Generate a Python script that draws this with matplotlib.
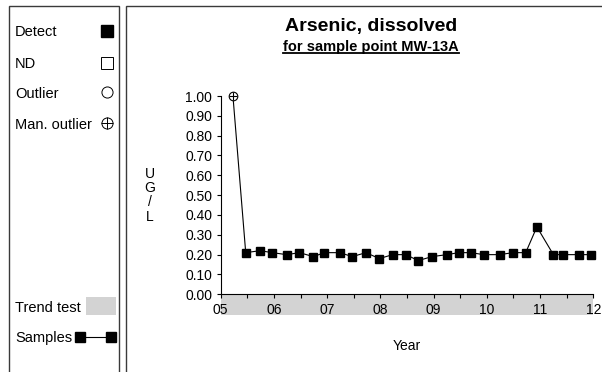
import matplotlib
matplotlib.use("Agg")
import matplotlib.pyplot as plt
from matplotlib.lines import Line2D
from matplotlib.patches import Rectangle
import numpy as np

plt.rcParams['font.family'] = ['Liberation Sans', 'DejaVu Sans']

# Sample dates (decimal years) and dissolved arsenic concentrations (UG/L)
sample_dates = [2005.23, 2005.47, 2005.74, 2005.97, 2006.24, 2006.48, 2006.74,
                2006.95, 2007.24, 2007.47, 2007.73, 2007.98, 2008.23, 2008.48,
                2008.71, 2008.97, 2009.25, 2009.47, 2009.70, 2009.94, 2010.24,
                2010.49, 2010.73, 2010.94, 2011.25, 2011.44, 2011.74, 2011.95]
arsenic = [1.00, 0.21, 0.22, 0.21, 0.20, 0.21, 0.19,
           0.21, 0.21, 0.19, 0.21, 0.18, 0.20, 0.20,
           0.17, 0.19, 0.20, 0.21, 0.21, 0.20, 0.20,
           0.21, 0.21, 0.34, 0.20, 0.20, 0.20, 0.20]
manual_outlier = [True] + [False] * 27

year_ticks = [2005, 2006, 2007, 2008, 2009, 2010, 2011, 2012]
year_labels = ['05', '06', '07', '08', '09', '10', '11', '12']
y_ticks = [0.0, 0.1, 0.2, 0.3, 0.4, 0.5, 0.6, 0.7, 0.8, 0.9, 1.0]

W, H = 602, 372
fig = plt.figure(figsize=(W / 100, H / 100), dpi=100)


def fx(x):
    return x / W


def fy(y):
    return 1 - y / H


# Plot area
x0, x1, ytop, ybot = 220.7, 593.3, 96.0, 294.3
ax = fig.add_axes([fx(x0), fy(ybot), fx(x1 - x0), (ybot - ytop) / H])
ax.set_xlim(2005, 2012)
ax.set_ylim(0, 1.0)
for s in ('top', 'right'):
    ax.spines[s].set_visible(False)
for s in ('left', 'bottom'):
    ax.spines[s].set_linewidth(0.8)

ax.set_xticks(year_ticks)
ax.set_xticklabels(year_labels)
ax.set_xticks(np.arange(2005.5, 2012, 1.0), minor=True)
ax.set_yticks(y_ticks)
ax.set_yticklabels([f"{v:.2f}" for v in y_ticks])
ax.tick_params(axis='both', which='both', direction='out', length=3,
               width=0.8, labelsize=10, colors='black')
ax.tick_params(axis='x', which='both', pad=3)
ax.tick_params(axis='y', pad=3)

# Trend-test band beneath the time axis
band_h = 21 / (ybot - ytop)
ax.add_patch(Rectangle((0, -band_h), 1, band_h, transform=ax.transAxes,
                       facecolor='#d3d3d3', edgecolor='none', clip_on=False,
                       zorder=0))

# Series line and markers
ax.plot(sample_dates, arsenic, color='black', lw=0.8, zorder=2, clip_on=False)
det_x = [d for d, m in zip(sample_dates, manual_outlier) if not m]
det_y = [v for v, m in zip(arsenic, manual_outlier) if not m]
out_x = [d for d, m in zip(sample_dates, manual_outlier) if m]
out_y = [v for v, m in zip(arsenic, manual_outlier) if m]
ax.plot(det_x, det_y, ls='none', marker='s', ms=5.8, mfc='black',
        mec='black', zorder=3, clip_on=False)
ax.plot(out_x, out_y, ls='none', marker='o', ms=6.2, mfc='white',
        mec='black', mew=0.8, zorder=3, clip_on=False)
ax.plot(out_x, out_y, ls='none', marker='+', ms=6.2, mec='black',
        mew=0.8, zorder=4, clip_on=False)

# Axis titles
ax.set_xlabel('Year', fontsize=10, labelpad=0)
ax.xaxis.set_label_coords(0.5, -(345.5 - ybot) / (ybot - ytop))
ax.xaxis.label.set_va('center')
yc = (ytop + ybot) / 2
for i, ch in enumerate(['U', 'G', '/', 'L']):
    fig.text(fx(150), fy(yc + (i - 1.5) * 14.3), ch, fontsize=10,
             ha='center', va='center')

# Title and underlined subtitle
fig.text(fx(371), fy(26), 'Arsenic, dissolved', fontsize=14,
         fontweight='bold', ha='center', va='center')
sub = fig.text(fx(371), fy(46.5), 'for sample point MW-13A', fontsize=10.5,
               fontweight='bold', ha='center', va='center')

# Panel frames
frame_col = '#3a3a3a'
fig.add_artist(Rectangle((fx(9), fy(400)), fx(110), (400 - 6) / H,
                         transform=fig.transFigure, facecolor='none',
                         edgecolor=frame_col, lw=1.0, clip_on=False))
fig.add_artist(Rectangle((fx(125.7), fy(400)), fx(520), (400 - 6) / H,
                         transform=fig.transFigure, facecolor='none',
                         edgecolor=frame_col, lw=1.0, clip_on=False))

# Legend panel: text baselines sit half a cap height below each row centre
legend_rows = [('Detect', 30.5), ('ND', 62.5), ('Outlier', 92.3),
               ('Man. outlier', 123.3), ('Trend test', 306.5),
               ('Samples', 336.7)]
cap_half = 10.5 * 100 / 72 * 0.716 / 2
for label, y in legend_rows:
    fig.text(fx(15), fy(y + cap_half), label, fontsize=10.5, ha='left',
             va='baseline')


def fig_marker(x, y, **kw):
    fig.add_artist(Line2D([fx(x)], [fy(y)], transform=fig.transFigure,
                          ls='none', **kw))


fig_marker(107, 30.5, marker='s', ms=8.0, mfc='black', mec='black')
fig_marker(107, 62.5, marker='s', ms=8.0, mfc='white', mec='black', mew=0.7)
fig_marker(107, 92.3, marker='o', ms=8.0, mfc='white', mec='black', mew=0.7)
fig_marker(107, 123.3, marker='o', ms=8.0, mfc='white', mec='black', mew=0.7)
fig_marker(107, 123.3, marker='+', ms=8.0, mec='black', mew=0.7)
fig.add_artist(Rectangle((fx(85.7), fy(315)), fx(116 - 85.7), (315 - 297.3) / H,
                         transform=fig.transFigure, facecolor='#d3d3d3',
                         edgecolor='none'))
fig.add_artist(Line2D([fx(80), fx(110.5)], [fy(336.7), fy(336.7)],
                      transform=fig.transFigure, color='black', lw=0.8,
                      marker='s', ms=6.5, mfc='black', mec='black'))

# Underline the subtitle
fig.canvas.draw()
bb = sub.get_window_extent()
fig.add_artist(Line2D([bb.x0 / W, bb.x1 / W], [(bb.y0 + 0.5) / H] * 2,
                      transform=fig.transFigure, color='black', lw=1.3))

fig.savefig('out.png', dpi=100)
